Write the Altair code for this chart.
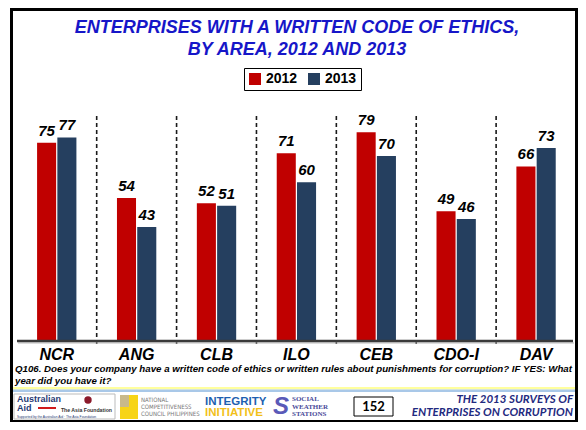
import altair as alt
import pandas as pd

areas = ["NCR", "ANG", "CLB", "ILO", "CEB", "CDO-I", "DAV"]
v2012 = [75, 54, 52, 71, 79, 49, 66]
v2013 = [77, 43, 51, 60, 70, 46, 73]
years = ["2012", "2013"]
colors = ["#C00000", "#253F5F"]

rows = []
for a, p, q in zip(areas, v2012, v2013):
    rows.append({"area": a, "year": "2012", "value": p})
    rows.append({"area": a, "year": "2013", "value": q})
df = pd.DataFrame(rows)
cats = pd.DataFrame({"area": areas})
seps = pd.DataFrame({"area": areas[1:]})

FONT = "Liberation Sans"
NARROW = "Liberation Sans Narrow, DejaVu Sans Condensed, sans-serif"
W, H = 570, 414

xs = alt.Scale(domain=areas, range=[8.8, 568], paddingInner=0, paddingOuter=0)
ys = alt.Scale(domain=[0, 100], range=[332, 69])
xo = alt.Scale(domain=years, paddingInner=0.06, paddingOuter=1.0)

X = alt.X("area:N", scale=xs, axis=None, sort=areas)
XO = alt.XOffset("year:N", scale=xo, sort=years)
Y = alt.Y("value:Q", scale=ys, axis=None)

bars = alt.Chart(df).mark_bar().encode(
    x=X, xOffset=XO, y=Y,
    color=alt.Color("year:N", scale=alt.Scale(domain=years, range=colors),
                    legend=alt.Legend(orient="none", legendX=236, legendY=60,
                                      direction="horizontal", title=None,
                                      symbolType="square", symbolSize=144,
                                      symbolStrokeWidth=0, symbolOpacity=1,
                                      labelFont=FONT, labelFontSize=14,
                                      labelFontWeight="bold", labelColor="black",
                                      labelOffset=4, columnPadding=9,
                                      strokeColor="black", fillColor="white",
                                      padding=4)),
)

vals = alt.Chart(df).mark_text(dy=-4, baseline="bottom", font=FONT, fontSize=15,
                               fontStyle="italic", fontWeight="bold",
                               color="black").encode(
    x=X, xOffset=XO, y=Y, text="value:Q")

sep = alt.Chart(seps).mark_rule(color="#1a1a1a", strokeWidth=1.6,
                                strokeDash=[4, 3]).encode(
    x=alt.X("area:N", scale=xs, axis=None, sort=areas, bandPosition=0),
    y=alt.value(108), y2=alt.value(337))

axisline = alt.Chart(pd.DataFrame({"v": [0]})).mark_rule(
    color="#3a3a3a", strokeWidth=2.5).encode(
    x=alt.value(9), x2=alt.value(565), y=alt.value(333))
axisshadow = alt.Chart(pd.DataFrame({"v": [0]})).mark_rule(
    color="#bbbbbb", strokeWidth=1).encode(
    x=alt.value(10), x2=alt.value(566), y=alt.value(335))

catlab = alt.Chart(cats).mark_text(font=FONT, fontSize=16, fontStyle="italic",
                                   fontWeight="bold", color="black",
                                   baseline="middle").encode(
    x=X, y=alt.value(347), text="area:N")


def label(t, x, y, size=11, color="black", align="left", weight="bold",
          style="italic", font=FONT, baseline="middle"):
    return alt.Chart(pd.DataFrame({"t": [t]})).mark_text(
        font=font, fontSize=size, color=color, align=align,
        fontWeight=weight, fontStyle=style, baseline=baseline).encode(
        x=alt.value(x), y=alt.value(y), text="t:N")


def box(x, x2, y, y2, fill, stroke=None, sw=0):
    kw = dict(fill=fill)
    if stroke:
        kw.update(stroke=stroke, strokeWidth=sw)
    return alt.Chart(pd.DataFrame({"v": [0]})).mark_rect(**kw).encode(
        x=alt.value(x), x2=alt.value(x2), y=alt.value(y), y2=alt.value(y2))


TITLE = "#1616C8"
deco = [
    # slide frame
    box(2, 5, 0, H, "black"),
    box(2, 570, 0, 3, "black"),
    box(567, 570, 0, H, "black"),
    box(2, 570, 412, 414, "black"),
    # title
    label("ENTERPRISES WITH A WRITTEN CODE OF ETHICS,", 289, 20, size=18,
          color=TITLE, align="center"),
    label("BY AREA, 2012 AND 2013", 289, 42, size=18, color=TITLE,
          align="center"),
    # question
    label("Q106. Does your company have a written code of ethics or written rules "
          "about punishments for corruption? IF YES: What", 7, 361, size=9.7),
    label("year did you have it?", 7, 373, size=9.7),
    # footer separator
    box(5, 567, 379, 381.5, "#FFFF9E"),
    box(5, 567, 381.5, 384, "#A9C8E8"),
    # logo 1
    box(6, 107, 386, 411, "white", "#bbbbbb", 1),
    label("Australian", 9, 391, size=9, color="#1F3A73", style="normal"),
    label("Aid", 9, 400, size=9, color="#1F3A73", style="normal"),
    box(30, 48, 399, 401, "#D01A1A"),
    alt.Chart(pd.DataFrame({"v": [0]})).mark_circle(size=55, color="#8B1A2B",
                                                    opacity=1).encode(
        x=alt.value(80), y=alt.value(392)),
    label("The Asia Foundation", 104, 402, size=5.2, color="#333333",
          style="normal", align="right"),
    label("Supported by the Australian Aid \u00b7 The Asia Foundation", 9, 408.5,
          size=3.3, color="#1F3A73", style="normal", weight="normal"),
    # logo 2
    box(112, 130, 387, 411, "#F7D417"),
    box(112, 121, 387, 399, "#C9B98A"),
    label("NATIONAL", 133, 392, size=6, color="#777777", style="normal",
          weight="normal", font=NARROW),
    label("COMPETITIVENESS", 133, 399, size=6, color="#777777",
          style="normal", weight="normal", font=NARROW),
    label("COUNCIL PHILIPPINES", 133, 406, size=6, color="#777777",
          style="normal", weight="normal", font=NARROW),
    # logo 3
    label("INTEGRITY", 197, 394, size=11.5, color="#1E5FB0", style="normal"),
    label("INITIATIVE", 197, 405, size=11.5, color="#F2BF1A", style="normal"),
    # logo 4
    label("S", 265, 399, size=24, color="#5A5AB8", style="italic"),
    label("SOCIAL", 284, 391, size=7, color="#4A4A99", style="normal",
          font="Liberation Serif"),
    label("WEATHER", 284, 398.5, size=7, color="#4A4A99", style="normal",
          font="Liberation Serif"),
    label("STATIONS", 284, 406, size=7, color="#4A4A99", style="normal",
          font="Liberation Serif"),
    # page number
    box(346, 385, 389, 408, "white", "black", 1),
    label("152", 365.5, 398.5, size=13, align="center", style="normal",
          font="Lato"),
    # right text
    label("THE 2013 SURVEYS OF", 565, 392, size=11.5, color="#1F2A80",
          align="right", font="Lato"),
    label("ENTERPRISES ON CORRUPTION", 565, 405, size=11.5, color="#1F2A80",
          align="right", font="Lato"),
]

chart = alt.layer(sep, bars, vals, axisshadow, axisline, catlab, *deco).properties(
    width=W, height=H, padding=0,
    autosize=alt.AutoSizeParams(type="none"),
).configure_view(stroke=None)

chart.save("out.html", embed_options={"renderer": "svg", "actions": False})
